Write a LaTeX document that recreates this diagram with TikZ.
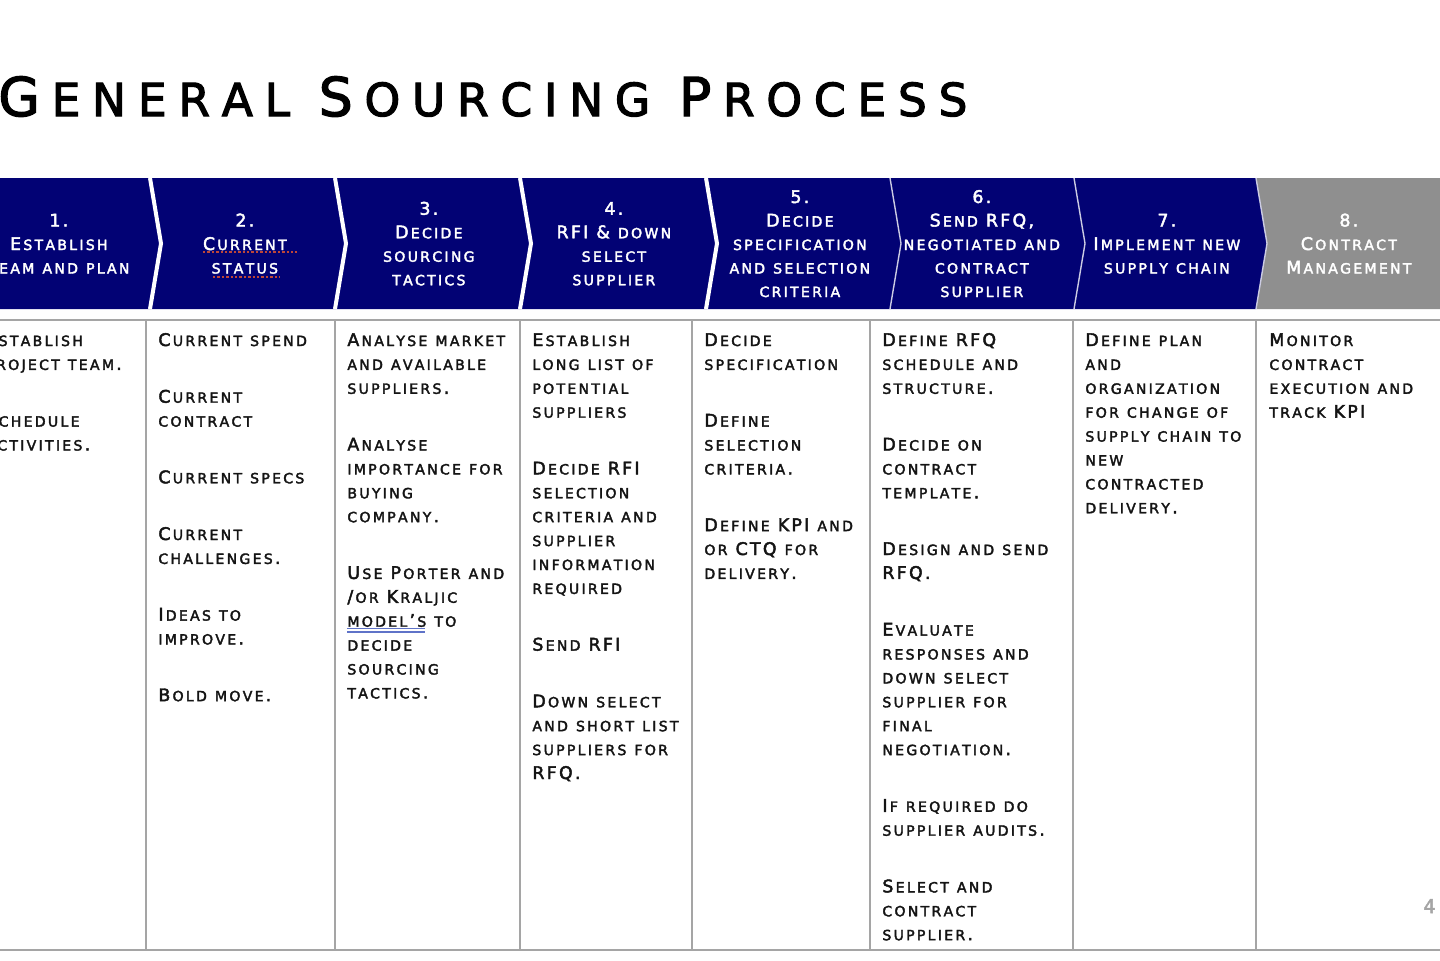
\documentclass[tikz,border=0pt]{standalone}
\usepackage{fontspec}
\setmainfont{DejaVu Sans}
\newfontfamily\gspfont{DejaVu Sans}[FakeBold=2.5]

\definecolor{navyblue}{RGB}{2,2,116}
\definecolor{chevgray}{RGB}{143,143,143}
\definecolor{rulegray}{RGB}{165,165,165}
\definecolor{spellred}{RGB}{190,70,55}
\definecolor{spellblue}{RGB}{95,115,200}

% small caps made from capitals of two sizes
\ExplSyntaxOn
\tl_new:N \l_gsp_scale_tl
\tl_set:Nn \l_gsp_scale_tl { 0.81 }
\tl_new:N \l_gsp_track_tl
\tl_set:Nn \l_gsp_track_tl { 0.13em }
\seq_new:N \l_gsp_items_seq
\seq_new:N \l_gsp_lines_seq
\bool_new:N \l_gsp_firstitem_bool
\bool_new:N \l_gsp_firstline_bool
\cs_new_protected:Npn \gsp_fsc:n #1
  {
    \str_map_inline:nn {#1}
      {
        \int_compare:nNnTF { `##1 } = { 32 }
          { \c_space_tl }
          {
            \int_compare:nNnTF { \char_value_uccode:n { `##1 } } = { 0 }
              { ##1 }
              {
                \int_compare:nNnTF { \char_value_uccode:n { `##1 } } = { `##1 }
                  { ##1 }
                  {
                    \group_begin:
                    \fontsize { \fp_eval:n { \l_gsp_scale_tl * \use:c { f@size } } }
                      { \baselineskip }
                    \selectfont
                    \char_generate:nn { \char_value_uccode:n { `##1 } } { 12 }
                    \group_end:
                  }
              }
            \kern \l_gsp_track_tl \scan_stop:
          }
      }
  }
\NewDocumentCommand \scparams { m m }
  {
    \tl_set:Nn \l_gsp_scale_tl {#1}
    \tl_set:Nn \l_gsp_track_tl {#2}
  }
\NewDocumentCommand \sclines { m }
  {
    \seq_set_split:Nnn \l_gsp_items_seq { ; } {#1}
    \bool_set_true:N \l_gsp_firstitem_bool
    \seq_map_inline:Nn \l_gsp_items_seq
      {
        \bool_if:NF \l_gsp_firstitem_bool { \\[\itemgap] }
        \bool_set_false:N \l_gsp_firstitem_bool
        \seq_set_split:Nnn \l_gsp_lines_seq { | } {##1}
        \bool_set_true:N \l_gsp_firstline_bool
        \seq_map_inline:Nn \l_gsp_lines_seq
          {
            \bool_if:NF \l_gsp_firstline_bool { \\ }
            \bool_set_false:N \l_gsp_firstline_bool
            \gsp_fsc:n {####1}
          }
      }
  }
\ExplSyntaxOff

\newcommand{\itemgap}{16.4pt}

\begin{document}
\begin{tikzpicture}[x=0.5pt,y=-0.5pt,
    title/.style={anchor=base west,inner sep=0pt,font={\gspfont\fontsize{26.75}{32}\selectfont},text=black},
    body/.style={anchor=base west,inner sep=0pt,text width=100pt,align=left,font={\gspfont\fontsize{8.7}{11.95}\selectfont},text=black!92},
    chevlabel/.style={anchor=base,inner sep=0pt,text width=110pt,align=center,font={\gspfont\fontsize{8.7}{11.75}\selectfont},text=white},
    rule/.style={draw=rulegray,line width=1pt},
    gap/.style={draw=white,line width=2pt},
    thingap/.style={draw=white!80!navyblue,line width=0.7pt},
    spell/.style={draw=spellred,line width=1.3pt,dash pattern=on 1.2pt off 1pt}]
    \useasboundingbox (0,0) rectangle (1440,960);
    \clip (0,0) rectangle (1440,960);

    \node[title] (title) at (-2,116) {\scparams{0.85}{0.22em}\sclines{General Sourcing Process}};

    % chevrons
    \fill[navyblue](-35,178)--(150,178)--(161,243.5)--(150,309)--(-35,309)--(-24,243.5)--cycle;
    \fill[navyblue](150,178)--(335,178)--(346,243.5)--(335,309)--(150,309)--(161,243.5)--cycle;
    \fill[navyblue](335,178)--(520,178)--(531,243.5)--(520,309)--(335,309)--(346,243.5)--cycle;
    \fill[navyblue](520,178)--(706,178)--(717,243.5)--(706,309)--(520,309)--(531,243.5)--cycle;
    \fill[navyblue](706,178)--(890,178)--(901,243.5)--(890,309)--(706,309)--(717,243.5)--cycle;
    \fill[navyblue](890,178)--(1074,178)--(1085,243.5)--(1074,309)--(890,309)--(901,243.5)--cycle;
    \fill[navyblue](1074,178)--(1256,178)--(1267,243.5)--(1256,309)--(1074,309)--(1085,243.5)--cycle;
    \fill[chevgray](1256,178)--(1460,178)--(1471,243.5)--(1460,309)--(1256,309)--(1267,243.5)--cycle;
    \draw[gap](150,178)--(161,243.5)--(150,309);
    \draw[gap](335,178)--(346,243.5)--(335,309);
    \draw[gap](520,178)--(531,243.5)--(520,309);
    \draw[gap](706,178)--(717,243.5)--(706,309);
    \draw[thingap](890,178)--(901,243.5)--(890,309);
    \draw[thingap](1074,178)--(1085,243.5)--(1074,309);
    \draw[thingap](1256,178)--(1267,243.5)--(1256,309);

    \node[chevlabel] (c1) at (60,226.5) {\sclines{1.|Establish|team and plan}};
    \node[chevlabel] (c2) at (246,226.5) {\sclines{2.|Current|status}};
    \node[chevlabel] (c3) at (430,214.75) {\sclines{3.|Decide|sourcing|tactics}};
    \node[chevlabel] (c4) at (615,214.75) {\sclines{4.|RFI & down|select|supplier}};
    \node[chevlabel] (c5) at (801,203) {\sclines{5.|Decide|specification|and selection|criteria}};
    \node[chevlabel] (c6) at (983,203) {\sclines{6.|Send RFQ,|negotiated and|contract|supplier}};
    \node[chevlabel] (c7) at (1168,226.5) {\sclines{7.|Implement new|supply chain}};
    \node[chevlabel] (c8) at (1350,226.5) {\sclines{8.|Contract|Management}};
    \draw[spell](203,252)--(297,252);
    \draw[spell](213,277)--(280,277);

    % table
    \draw[rule](0,320)--(1440,320);
    \draw[rule](0,950)--(1440,950);
    \draw[rule](146,320)--(146,950);
    \draw[rule](335,320)--(335,950);
    \draw[rule](520,320)--(520,950);
    \draw[rule](692,320)--(692,950);
    \draw[rule](870,320)--(870,950);
    \draw[rule](1073,320)--(1073,950);
    \draw[rule](1256,320)--(1256,950);

    \node[body] (t1) at (-15,346) {\sclines{Establish|project team.;Schedule|activities.}};
    \node[body] (t2) at (158,346) {\sclines{Current spend;Current|contract;Current specs;Current|challenges.;Ideas to|improve.;Bold move.}};
    \node[body] (t3) at (347,346) {\sclines{Analyse market|and available|suppliers.;Analyse|importance for|buying|company.;Use Porter and|/or Kraljic|model’s to|decide|sourcing|tactics.}};
    \node[body] (t4) at (532,346) {\sclines{Establish|long list of|potential|suppliers;Decide RFI|selection|criteria and|supplier|information|required;Send RFI;Down select|and short list|suppliers for|RFQ.}};
    \node[body] (t5) at (704,346) {\sclines{Decide|specification;Define|selection|criteria.;Define KPI and|or CTQ for|delivery.}};
    \node[body] (t6) at (882,346) {\sclines{Define RFQ|schedule and|structure.;Decide on|contract|template.;Design and send|RFQ.;Evaluate|responses and|down select|supplier for|final|negotiation.;If required do|supplier audits.;Select and|contract|supplier.}};
    \node[body] (t7) at (1085,346) {\sclines{Define plan|and|organization|for change of|supply chain to|new|contracted|delivery.}};
    \node[body] (t8) at (1269,346) {\sclines{Monitor|contract|execution and|track KPI}};
    \draw[spellblue,line width=0.7pt](347,628.5)--(425,628.5);
    \draw[spellblue,line width=0.7pt](347,632)--(425,632);

    \node[anchor=base east,inner sep=0pt,font={\gspfont\fontsize{9.5}{11}\selectfont},text=rulegray] (page) at (1436,913) {4};
\end{tikzpicture}
\end{document}
